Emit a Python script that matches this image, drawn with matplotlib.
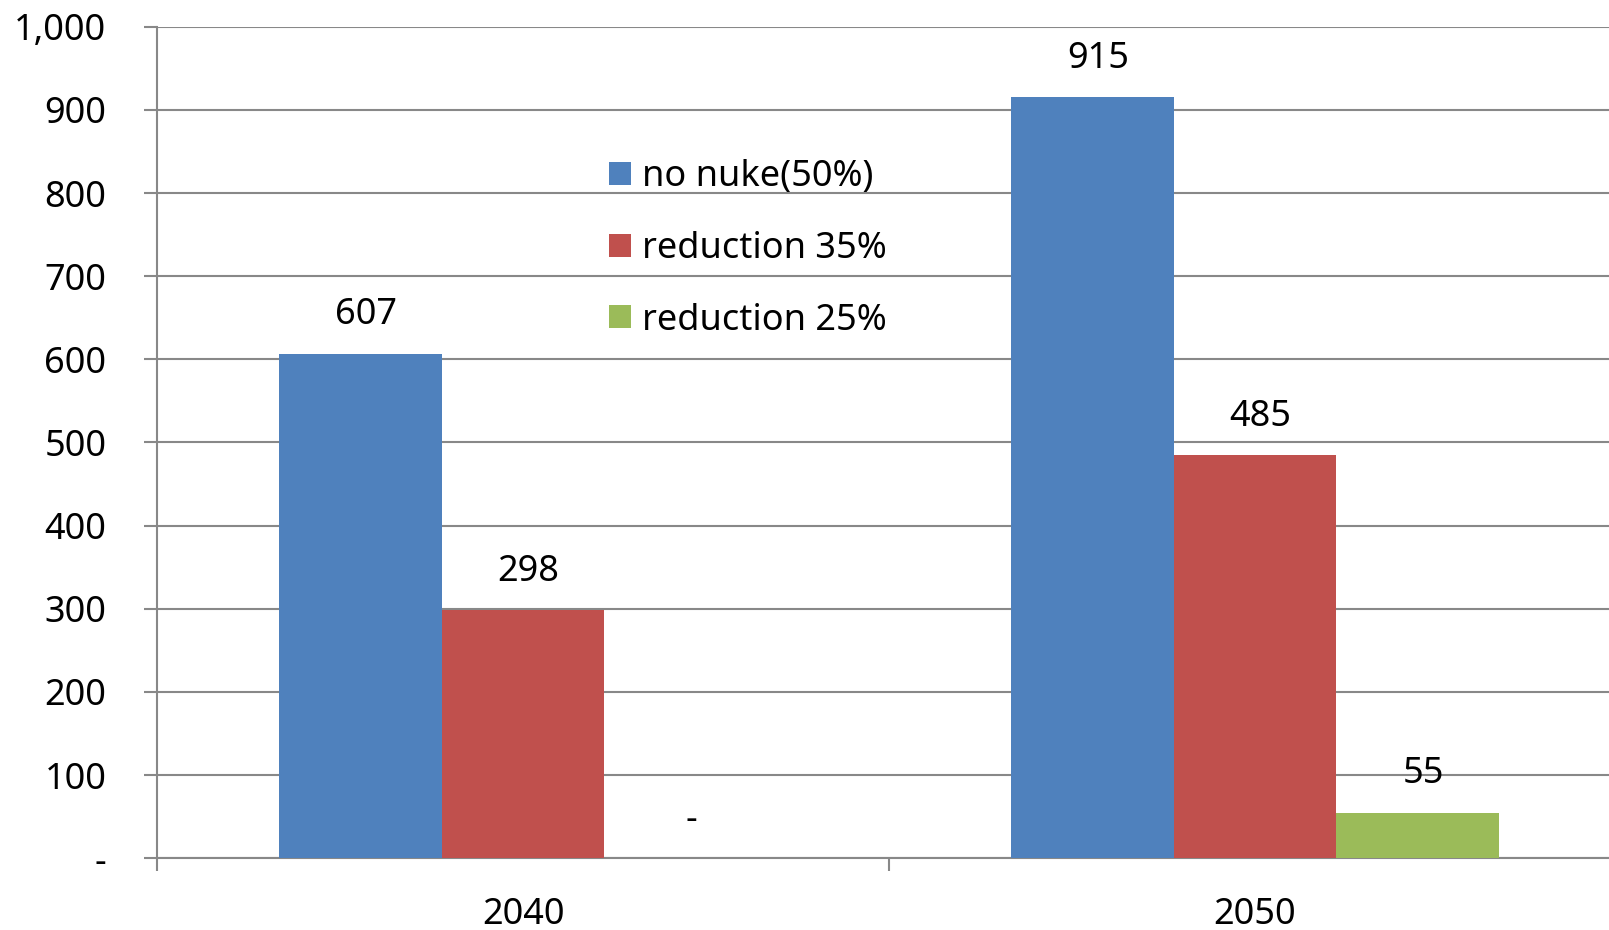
import matplotlib
matplotlib.use("Agg")
import matplotlib.pyplot as plt
import numpy as np
from matplotlib.ticker import FixedLocator, FuncFormatter

plt.rcParams['font.family'] = ['Noto Sans', 'DejaVu Sans']

years = ["2040", "2050"]
series_names = ["no nuke(50%)", "reduction 35%", "reduction 25%"]
no_nuke = [607, 915]
reduction_35 = [298, 485]
reduction_25 = [0, 55]
colors = ["#4F81BD", "#C0504D", "#9BBB59"]

W, H = 1609, 930
fig = plt.figure(figsize=(W / 100, H / 100), dpi=100)
ax = fig.add_axes([157 / W, (H - 858.3) / H, 1464 / W, (858.3 - 26.7) / H])

grid_c = "#888888"
fs = 26
bar_w = 1 / 4.5
x = np.arange(len(years))
all_series = [no_nuke, reduction_35, reduction_25]

handles = []
for i, (vals, name, col) in enumerate(zip(all_series, series_names, colors)):
    pos = x + (i - 1) * bar_w
    bars = ax.bar(pos, vals, width=bar_w, color=col, label=name, zorder=3)
    handles.append(bars)
    for p, v in zip(pos, vals):
        txt = "-" if v == 0 else f"{v:,}"
        ax.annotate(txt, (p, v), xytext=(4, 27.5), textcoords="offset points",
                    ha="center", va="center", fontsize=fs, color="black")

ax.set_xlim(-0.5, len(years) - 0.5)
ax.set_ylim(0, 1000)

ax.set_yticks(np.arange(0, 1001, 100))
ax.yaxis.set_major_formatter(FuncFormatter(lambda v, _: "-" if v == 0 else f"{int(v):,}"))
ax.yaxis.grid(True, color=grid_c, linewidth=1.5, zorder=0)
ax.tick_params(axis="y", direction="out", length=9.4, width=1.5, color=grid_c,
               pad=27, labelsize=fs)

ax.set_xticks(x)
ax.set_xticklabels(years)
ax.xaxis.set_minor_locator(FixedLocator(np.arange(-0.5, len(years), 1.0)))
ax.tick_params(axis="x", which="major", length=0, pad=28, labelsize=fs)
ax.tick_params(axis="x", which="minor", direction="out", length=9.4, width=1.5, color=grid_c)

for s in ["top", "right"]:
    ax.spines[s].set_visible(False)
for s in ["left", "bottom"]:
    ax.spines[s].set_color(grid_c)
    ax.spines[s].set_linewidth(1.5)
ax.set_axisbelow(True)

leg = fig.legend(handles=handles, labels=series_names, loc="upper left",
                 bbox_to_anchor=(591 / W, 1 - 141 / H), frameon=False,
                 fontsize=fs, handlelength=0.6, handleheight=0.6,
                 handletextpad=0.3, labelspacing=0.99, borderpad=0)

fig.savefig("out.png", dpi=100)
